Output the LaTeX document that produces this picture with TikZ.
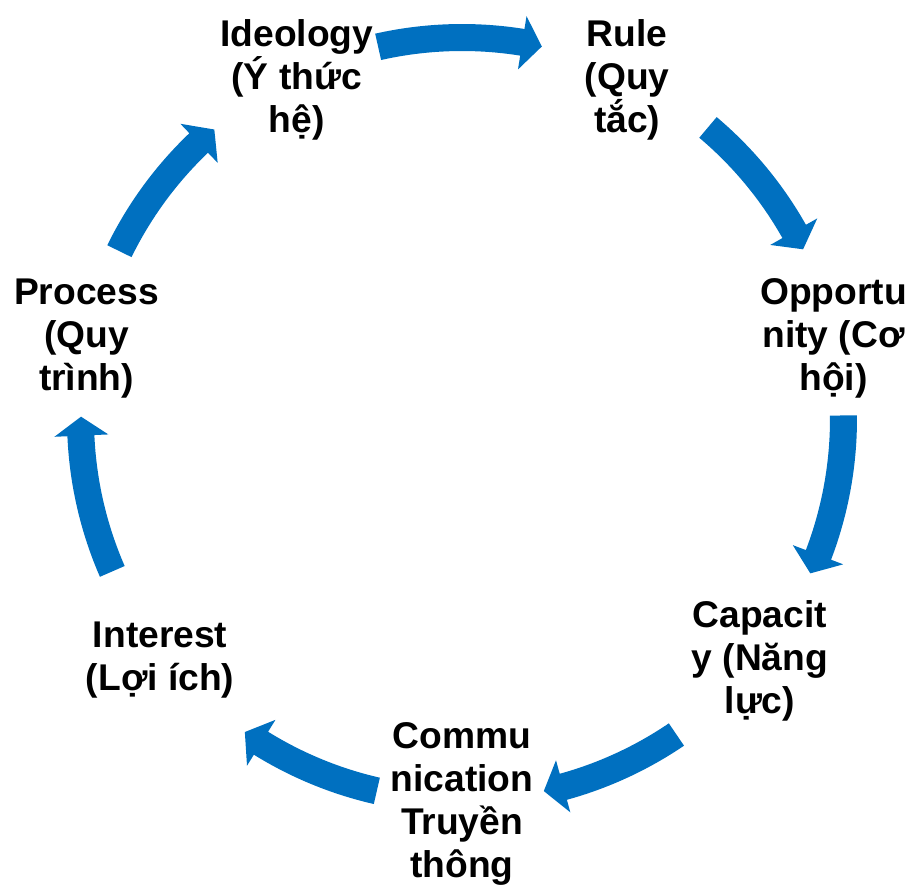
\documentclass[tikz,border=0pt]{standalone}
\usepackage{fontspec}
\setmainfont{Liberation Sans}
\usetikzlibrary{calc}
\definecolor{cycleblue}{RGB}{0,112,192}

\begin{document}
\begin{tikzpicture}[x=0.5pt,y=0.5pt,
    lbl/.style={align=center,inner sep=0pt,yshift=-2pt,font=\fontsize{18.6}{21.5}\selectfont\bfseries},
    blk/.style={fill=cycleblue}]
    \useasboundingbox (0,0) rectangle (912,885);
    \coordinate (C) at (462,466);
    % labels round the circle
    \node[lbl] (ideo) at ($(C)+(115.71:381)$) {Ideology\\(Ý thức\\hệ)};
    \node[lbl] (rule) at ($(C)+(64.29:381)$) {Rule\\(Quy\\tắc)};
    \node[lbl] (opp) at ($(C)+(12.86:381)$) {Opportu\\nity (Cơ\\hội)};
    \node[lbl] (cap) at ($(C)+(-38.57:381)$) {Capacit\\y (Năng\\lực)};
    \node[lbl] (comm) at ($(C)+(-90:381)$) {Commu\\nication\\Truyền\\thông};
    \node[lbl,xshift=-2pt] (inter) at ($(C)+(-141.43:381)$) {Interest\\(Lợi ích)};
    \node[lbl,xshift=-2pt] (proc) at ($(C)+(167.14:381)$) {Process\\(Quy\\trình)};
    % block arrows: tail/head base/tip angles
    \foreach \t/\b/\p in {102.7/80.9/77.9, 49.85/29.45/26.45, 0.53/-20.87/-23.9,
        -55.8/-74.6/-77.6, -102.9/-121.8/-124.75, 203.55/182.5/179.65, 153.9/133.65/130.55}
        \fill[blk] ($(C)+(\t:395)$) arc[start angle=\t, end angle=\b, radius=395]
            -- ($(C)+(\b:408)$) -- ($(C)+(\p:381)$) -- ($(C)+(\b:354)$) -- ($(C)+(\b:368)$)
            arc[start angle=\b, end angle=\t, radius=368] -- cycle;
\end{tikzpicture}
\end{document}
